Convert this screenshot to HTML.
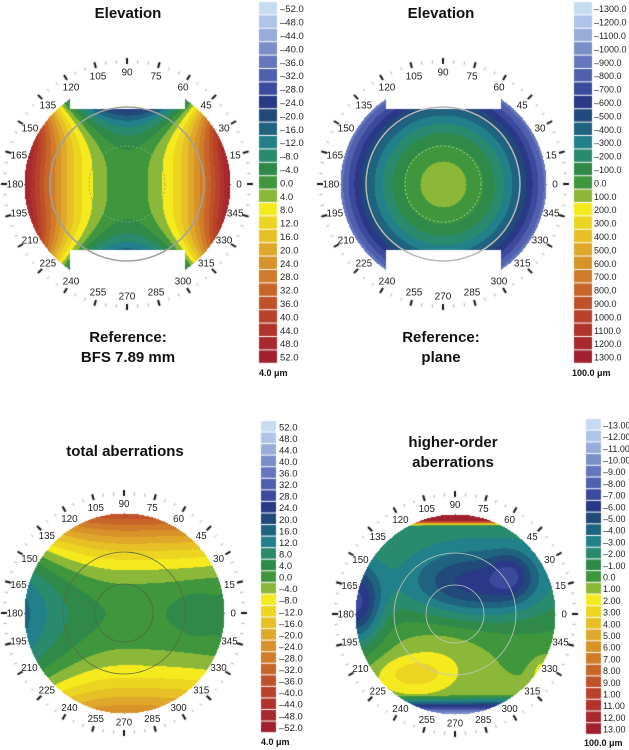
<!DOCTYPE html>
<html><head><meta charset="utf-8">
<style>
html,body{margin:0;padding:0;background:#fff;}
#wrap{position:relative;width:629px;height:750px;overflow:hidden;}
canvas,svg{position:absolute;left:0;top:0;}
svg text{font-family:"Liberation Sans",sans-serif;}
.t{font-size:15px;font-weight:bold;fill:#111;text-anchor:middle;}
.a{font-size:10px;fill:#222;text-anchor:middle;}
.b{font-size:9.5px;fill:#222;}
.b2{font-size:9px;fill:#222;}
.u{font-size:9px;font-weight:bold;fill:#111;}
</style></head><body><div id="wrap">
<canvas id="c" width="629" height="750"></canvas>
<svg width="629" height="750" viewBox="0 0 629 750">
<text class="t" x="128" y="18">Elevation</text>
<text class="t" x="441" y="18">Elevation</text>
<text class="t" x="128" y="342">Reference:</text>
<text class="t" x="128" y="362">BFS 7.89 mm</text>
<text class="t" x="441" y="342">Reference:</text>
<text class="t" x="441" y="362">plane</text>
<text class="t" x="125" y="456">total aberrations</text>
<text class="t" x="453" y="447">higher-order</text>
<text class="t" x="453" y="467">aberrations</text>

<g transform="translate(127,184)">
<text class="a" x="112" y="3.5">0</text><text class="a" x="108.2" y="-25.5">15</text><text class="a" x="97" y="-52.5">30</text><text class="a" x="79.2" y="-75.7">45</text><text class="a" x="56" y="-93.5">60</text><text class="a" x="29" y="-104.7">75</text><text class="a" x="0" y="-108.5">90</text><text class="a" x="-29" y="-104.7">105</text><text class="a" x="-56" y="-93.5">120</text><text class="a" x="-79.2" y="-75.7">135</text><text class="a" x="-97" y="-52.5">150</text><text class="a" x="-108.2" y="-25.5">165</text><text class="a" x="-112" y="3.5">180</text><text class="a" x="-108.2" y="32.5">195</text><text class="a" x="-97" y="59.5">210</text><text class="a" x="-79.2" y="82.7">225</text><text class="a" x="-56" y="100.5">240</text><text class="a" x="-29" y="111.7">255</text><text class="a" x="0" y="115.5">270</text><text class="a" x="29" y="111.7">285</text><text class="a" x="56" y="100.5">300</text><text class="a" x="79.2" y="82.7">315</text><text class="a" x="97" y="59.5">330</text><text class="a" x="108.2" y="32.5">345</text>
</g>
<g transform="translate(443,184)">
<text class="a" x="112" y="3.5">0</text><text class="a" x="108.2" y="-25.5">15</text><text class="a" x="97" y="-52.5">30</text><text class="a" x="79.2" y="-75.7">45</text><text class="a" x="56" y="-93.5">60</text><text class="a" x="29" y="-104.7">75</text><text class="a" x="0" y="-108.5">90</text><text class="a" x="-29" y="-104.7">105</text><text class="a" x="-56" y="-93.5">120</text><text class="a" x="-79.2" y="-75.7">135</text><text class="a" x="-97" y="-52.5">150</text><text class="a" x="-108.2" y="-25.5">165</text><text class="a" x="-112" y="3.5">180</text><text class="a" x="-108.2" y="32.5">195</text><text class="a" x="-97" y="59.5">210</text><text class="a" x="-79.2" y="82.7">225</text><text class="a" x="-56" y="100.5">240</text><text class="a" x="-29" y="111.7">255</text><text class="a" x="0" y="115.5">270</text><text class="a" x="29" y="111.7">285</text><text class="a" x="56" y="100.5">300</text><text class="a" x="79.2" y="82.7">315</text><text class="a" x="97" y="59.5">330</text><text class="a" x="108.2" y="32.5">345</text>
</g>
<g transform="translate(124,613) scale(0.975)">
<text class="a" x="112" y="3.5">0</text><text class="a" x="108.2" y="-25.5">15</text><text class="a" x="97" y="-52.5">30</text><text class="a" x="79.2" y="-75.7">45</text><text class="a" x="56" y="-93.5">60</text><text class="a" x="29" y="-104.7">75</text><text class="a" x="0" y="-108.5">90</text><text class="a" x="-29" y="-104.7">105</text><text class="a" x="-56" y="-93.5">120</text><text class="a" x="-79.2" y="-75.7">135</text><text class="a" x="-97" y="-52.5">150</text><text class="a" x="-108.2" y="-25.5">165</text><text class="a" x="-112" y="3.5">180</text><text class="a" x="-108.2" y="32.5">195</text><text class="a" x="-97" y="59.5">210</text><text class="a" x="-79.2" y="82.7">225</text><text class="a" x="-56" y="100.5">240</text><text class="a" x="-29" y="111.7">255</text><text class="a" x="0" y="115.5">270</text><text class="a" x="29" y="111.7">285</text><text class="a" x="56" y="100.5">300</text><text class="a" x="79.2" y="82.7">315</text><text class="a" x="97" y="59.5">330</text><text class="a" x="108.2" y="32.5">345</text>
</g>
<g transform="translate(455,614) scale(0.975)">
<text class="a" x="112" y="3.5">0</text><text class="a" x="108.2" y="-25.5">15</text><text class="a" x="97" y="-52.5">30</text><text class="a" x="79.2" y="-75.7">45</text><text class="a" x="56" y="-93.5">60</text><text class="a" x="29" y="-104.7">75</text><text class="a" x="0" y="-108.5">90</text><text class="a" x="-29" y="-104.7">105</text><text class="a" x="-56" y="-93.5">120</text><text class="a" x="-79.2" y="-75.7">135</text><text class="a" x="-97" y="-52.5">150</text><text class="a" x="-108.2" y="-25.5">165</text><text class="a" x="-112" y="3.5">180</text><text class="a" x="-108.2" y="32.5">195</text><text class="a" x="-97" y="59.5">210</text><text class="a" x="-79.2" y="82.7">225</text><text class="a" x="-56" y="100.5">240</text><text class="a" x="-29" y="111.7">255</text><text class="a" x="0" y="115.5">270</text><text class="a" x="29" y="111.7">285</text><text class="a" x="56" y="100.5">300</text><text class="a" x="79.2" y="82.7">315</text><text class="a" x="97" y="59.5">330</text><text class="a" x="108.2" y="32.5">345</text>
</g>

<circle cx="127" cy="184" r="77" fill="none" stroke="#a0a0a0" stroke-width="1.5"/>
<circle cx="127" cy="184" r="38" fill="none" stroke="#7fb07f" stroke-width="0.8" stroke-dasharray="2 2"/>
<circle cx="443" cy="184" r="77" fill="none" stroke="#b8b8b8" stroke-width="1.5"/>
<circle cx="443" cy="184" r="38" fill="none" stroke="#9fcf9f" stroke-width="0.8" stroke-dasharray="2 2"/>
<circle cx="124" cy="613" r="61" fill="none" stroke="#5a6a40" stroke-width="0.8"/>
<circle cx="124" cy="613" r="29" fill="none" stroke="#4a6a40" stroke-width="0.8"/>
<circle cx="455" cy="614" r="61" fill="none" stroke="#c0c8c0" stroke-width="0.8"/>
<circle cx="455" cy="614" r="29" fill="none" stroke="#c0c8c0" stroke-width="0.8"/>

<text class="b" y="12.2"><tspan x="280">–52.0</tspan><tspan x="280" dy="13.4">–48.0</tspan><tspan x="280" dy="13.4">–44.0</tspan><tspan x="280" dy="13.4">–40.0</tspan><tspan x="280" dy="13.4">–36.0</tspan><tspan x="280" dy="13.4">–32.0</tspan><tspan x="280" dy="13.4">–28.0</tspan><tspan x="280" dy="13.4">–24.0</tspan><tspan x="280" dy="13.4">–20.0</tspan><tspan x="280" dy="13.4">–16.0</tspan><tspan x="280" dy="13.4">–12.0</tspan><tspan x="280" dy="13.4">–8.0</tspan><tspan x="280" dy="13.4">–4.0</tspan><tspan x="280" dy="13.4">0.0</tspan><tspan x="280" dy="13.4">4.0</tspan><tspan x="280" dy="13.4">8.0</tspan><tspan x="280" dy="13.4">12.0</tspan><tspan x="280" dy="13.4">16.0</tspan><tspan x="280" dy="13.4">20.0</tspan><tspan x="280" dy="13.4">24.0</tspan><tspan x="280" dy="13.4">28.0</tspan><tspan x="280" dy="13.4">32.0</tspan><tspan x="280" dy="13.4">36.0</tspan><tspan x="280" dy="13.4">40.0</tspan><tspan x="280" dy="13.4">44.0</tspan><tspan x="280" dy="13.4">48.0</tspan><tspan x="280" dy="13.4">52.0</tspan></text>
<text class="u" x="259" y="376">4.0 μm</text>

<text class="b2" y="12.2"><tspan x="594">–1300.0</tspan><tspan x="594" dy="13.4">–1200.0</tspan><tspan x="594" dy="13.4">–1100.0</tspan><tspan x="594" dy="13.4">–1000.0</tspan><tspan x="594" dy="13.4">–900.0</tspan><tspan x="594" dy="13.4">–800.0</tspan><tspan x="594" dy="13.4">–700.0</tspan><tspan x="594" dy="13.4">–600.0</tspan><tspan x="594" dy="13.4">–500.0</tspan><tspan x="594" dy="13.4">–400.0</tspan><tspan x="594" dy="13.4">–300.0</tspan><tspan x="594" dy="13.4">–200.0</tspan><tspan x="594" dy="13.4">–100.0</tspan><tspan x="594" dy="13.4">0.0</tspan><tspan x="594" dy="13.4">100.0</tspan><tspan x="594" dy="13.4">200.0</tspan><tspan x="594" dy="13.4">300.0</tspan><tspan x="594" dy="13.4">400.0</tspan><tspan x="594" dy="13.4">500.0</tspan><tspan x="594" dy="13.4">600.0</tspan><tspan x="594" dy="13.4">700.0</tspan><tspan x="594" dy="13.4">800.0</tspan><tspan x="594" dy="13.4">900.0</tspan><tspan x="594" dy="13.4">1000.0</tspan><tspan x="594" dy="13.4">1100.0</tspan><tspan x="594" dy="13.4">1200.0</tspan><tspan x="594" dy="13.4">1300.0</tspan></text>
<text class="u" x="572" y="376">100.0 μm</text>

<text class="b" y="430.3"><tspan x="279">52.0</tspan><tspan x="279" dy="11.56">48.0</tspan><tspan x="279" dy="11.56">44.0</tspan><tspan x="279" dy="11.56">40.0</tspan><tspan x="279" dy="11.56">36.0</tspan><tspan x="279" dy="11.56">32.0</tspan><tspan x="279" dy="11.56">28.0</tspan><tspan x="279" dy="11.56">24.0</tspan><tspan x="279" dy="11.56">20.0</tspan><tspan x="279" dy="11.56">16.0</tspan><tspan x="279" dy="11.56">12.0</tspan><tspan x="279" dy="11.56">8.0</tspan><tspan x="279" dy="11.56">4.0</tspan><tspan x="279" dy="11.56">0.0</tspan><tspan x="279" dy="11.56">–4.0</tspan><tspan x="279" dy="11.56">–8.0</tspan><tspan x="279" dy="11.56">–12.0</tspan><tspan x="279" dy="11.56">–16.0</tspan><tspan x="279" dy="11.56">–20.0</tspan><tspan x="279" dy="11.56">–24.0</tspan><tspan x="279" dy="11.56">–28.0</tspan><tspan x="279" dy="11.56">–32.0</tspan><tspan x="279" dy="11.56">–36.0</tspan><tspan x="279" dy="11.56">–40.0</tspan><tspan x="279" dy="11.56">–44.0</tspan><tspan x="279" dy="11.56">–48.0</tspan><tspan x="279" dy="11.56">–52.0</tspan></text>
<text class="u" x="261" y="745">4.0 μm</text>

<text class="b2" y="428.4"><tspan x="603">–13.00</tspan><tspan x="603" dy="11.7">–12.00</tspan><tspan x="603" dy="11.7">–11.00</tspan><tspan x="603" dy="11.7">–10.00</tspan><tspan x="603" dy="11.7">–9.00</tspan><tspan x="603" dy="11.7">–8.00</tspan><tspan x="603" dy="11.7">–7.00</tspan><tspan x="603" dy="11.7">–6.00</tspan><tspan x="603" dy="11.7">–5.00</tspan><tspan x="603" dy="11.7">–4.00</tspan><tspan x="603" dy="11.7">–3.00</tspan><tspan x="603" dy="11.7">–2.00</tspan><tspan x="603" dy="11.7">–1.00</tspan><tspan x="603" dy="11.7">0.0</tspan><tspan x="603" dy="11.7">1.00</tspan><tspan x="603" dy="11.7">2.00</tspan><tspan x="603" dy="11.7">3.00</tspan><tspan x="603" dy="11.7">4.00</tspan><tspan x="603" dy="11.7">5.00</tspan><tspan x="603" dy="11.7">6.00</tspan><tspan x="603" dy="11.7">7.00</tspan><tspan x="603" dy="11.7">8.00</tspan><tspan x="603" dy="11.7">9.00</tspan><tspan x="603" dy="11.7">1.00</tspan><tspan x="603" dy="11.7">11.00</tspan><tspan x="603" dy="11.7">12.00</tspan><tspan x="603" dy="11.7">13.00</tspan></text>
<text class="u" x="584" y="746">100.0 μm</text>
</svg>
</div>
<script>
(function(){
var cols=["#c8dcf0","#afc4e8","#98acdc","#7c8ec8","#6676bc","#5060ae","#3c4a9e","#2a3888","#21497a","#1f6380","#22808a","#2a8a6e","#2f8a4a","#3f963c","#8cb83a","#f5ea1e","#ecd520","#e6c025","#e0a82a","#d8922a","#d07c2a","#c8662a","#c0522a","#b8422c","#b0342c","#a82a2e","#a02030"];
var rgb=cols.map(function(h){return [parseInt(h.substr(1,2),16),parseInt(h.substr(3,2),16),parseInt(h.substr(5,2),16)];});
var cv=document.getElementById('c'),ctx=cv.getContext('2d');
ctx.fillStyle='#fff';ctx.fillRect(0,0,629,750);
var img=ctx.getImageData(0,0,629,750),d=img.data;
function g(dx,dy,sx,sy){return Math.exp(-(dx*dx/(sx*sx)+dy*dy/(sy*sy)));}
function topMask(dx,dy,R){
  if(dx*dx+dy*dy>R*R)return false;
  if(Math.abs(dx)<58){ if(dy<-75)return false; if(dy>65)return false;}
  return true;}
function disk(dx,dy,R){return dx*dx+dy*dy<=R*R;}
var maps=[
 {cx:127,cy:184,R:103,m:topMask,f:function(dx,dy){var u=dx/103,v=dy/103;
   return 52*u*u*(1+1.0*v*v)-65*Math.pow(v*v,1.6);},ix:function(z){return Math.round((z+52)/4);}},
 {cx:443,cy:184,R:103,m:topMask,f:function(dx,dy){return 100-0.0945*(dx*dx+dy*dy);},ix:function(z){return Math.round((z+1300)/100);}},
 {cx:124,cy:613,R:100,m:disk,f:function(dx,dy){var u=dx/100,v=dy/100;
   var z=1.5+(u<0?14*u*u:2*u*u)-(v<0?40:28)*v*v;
   if(u>0) z+=3*g(u-0.7,v,0.17,0.2);
   return z;},ix:function(z){return Math.round((52-z)/4);}},
 {cx:455,cy:614,R:100,m:disk,f:function(dx,dy){var u=dx/100,v=dy/100;
   var z=-0.5+1.5*v-5*g(u-0.2,v+0.3,0.7,0.35)-2.5*g(u-0.55,v+0.4,0.2,0.22)-6*g(u+1,v+0.1,0.25,0.4)
   +1.2*g(u+0.15,v-0.3,0.55,0.35)+2.3*g(u+0.42,v-0.6,0.38,0.18)+2.5*g(u-0.9,v-0.6,0.12,0.15)
   +30*Math.max(0,-0.88-v)/0.12-12*Math.max(0,v-0.8)/0.2;
   return z;},ix:function(z){return Math.round(z+13);}}
];
maps.forEach(function(M){
  for(var y=M.cy-M.R-2;y<=M.cy+M.R+2;y++)for(var x=M.cx-M.R-2;x<=M.cx+M.R+2;x++){
    var dx=x-M.cx,dy=y-M.cy; if(!M.m(dx,dy,M.R))continue;
    var i=M.ix(M.f(dx,dy)); if(i<0)i=0; if(i>26)i=26;
    var c=rgb[i],p=(y*629+x)*4; d[p]=c[0];d[p+1]=c[1];d[p+2]=c[2];d[p+3]=255;}
});
ctx.putImageData(img,0,0);
maps.forEach(function(M){
  for(var a=0;a<360;a+=5){
    var t=a*Math.PI/180,c=Math.cos(t),s=-Math.sin(t),maj=(a%15==0);
    var r1=M.R+(maj?17:18),r2=M.R+(maj?23:21);
    ctx.strokeStyle=maj?'#111':'#aaa';ctx.lineWidth=maj?2:1;
    ctx.beginPath();ctx.moveTo(M.cx+r1*c,M.cy+r1*s);ctx.lineTo(M.cx+r2*c,M.cy+r2*s);ctx.stroke();}
});
var bars=[[259,2,18,13.4],[574,2,18,13.4],[261,421,15,11.56],[586,419,15,11.7]];
bars.forEach(function(B){
  for(var i=0;i<27;i++){ctx.fillStyle=cols[i];ctx.fillRect(B[0],B[1]+i*B[3],B[2],B[3]-1);}
});
})();
</script>
</body></html>
